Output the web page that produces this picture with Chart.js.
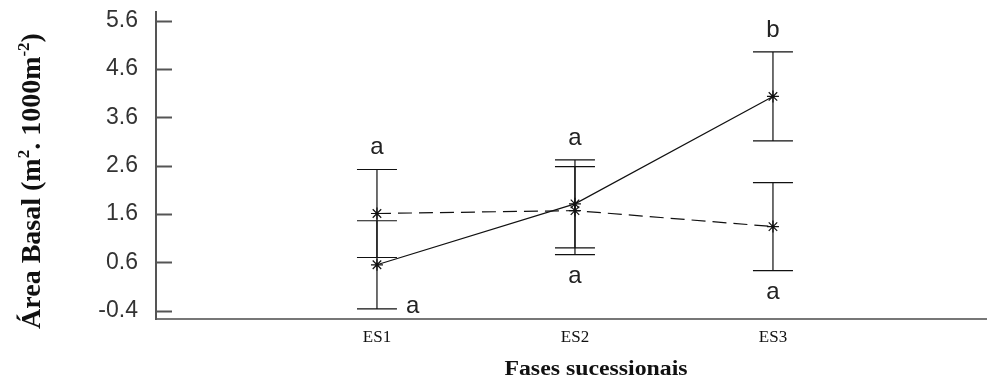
<!DOCTYPE html>
<html>
<head>
<meta charset="utf-8">
<script src="https://cdn.jsdelivr.net/npm/chart.js@4.4.0/dist/chart.umd.min.js"></script>
<style>
html, body { margin: 0; padding: 0; background: #fff; }
</style>
</head>
<body>
<canvas id="myChart" width="987" height="383"></canvas>
<script>
// categories (x = 1, 2, 3)
let phases       = ["ES1", "ES2", "ES3"];
// solid line series: mean and +/- error
let solidMean    = [0.55, 1.81, 4.03];
let solidErr     = [0.91, 0.91, 0.92];
// dashed line series
let dashedMean   = [1.61, 1.67, 1.34];
let dashedErr    = [0.91, 0.91, 0.91];
// significance letters above / below each phase
let letterTop    = ["a", "a", "b"];
let letterBottom = ["a", "a", "a"];
let yTicks       = [-0.4, 0.6, 1.6, 2.6, 3.6, 4.6, 5.6];

let yTitle = "Área Basal";
let xTitle = "Fases sucessionais";

let toPoints = (arr) => arr.map((v, i) => ({ x: i + 1, y: v }));

const extras = {
    id: "extras",
    beforeDatasetsDraw(chart) {
        const ctx = chart.ctx;
        const xs = chart.scales.x, ys = chart.scales.y;
        const series = [[solidMean, solidErr], [dashedMean, dashedErr]];
        ctx.save();
        ctx.strokeStyle = "#111";
        ctx.lineWidth = 1.2;
        series.forEach(([m, e]) => {
            m.forEach((v, i) => {
                const px = xs.getPixelForValue(i + 1);
                const top = ys.getPixelForValue(v + e[i]);
                const bot = ys.getPixelForValue(v - e[i]);
                ctx.beginPath();
                ctx.moveTo(px, top); ctx.lineTo(px, bot);
                ctx.moveTo(px - 20, top); ctx.lineTo(px + 20, top);
                ctx.moveTo(px - 20, bot); ctx.lineTo(px + 20, bot);
                ctx.stroke();
            });
        });
        ctx.restore();
    },
    afterDraw(chart) {
        const ctx = chart.ctx;
        const xs = chart.scales.x, ys = chart.scales.y;
        const area = chart.chartArea;
        ctx.save();

        // inward tick marks on the y axis
        ctx.strokeStyle = "#555";
        ctx.lineWidth = 2;
        yTicks.forEach(t => {
            const py = Math.round(ys.getPixelForValue(t)) + 0.5;
            ctx.beginPath();
            ctx.moveTo(area.left, py);
            ctx.lineTo(area.left + 16, py);
            ctx.stroke();
        });

        // letters
        ctx.fillStyle = "#222";
        ctx.font = "24px 'Liberation Sans', Arial, sans-serif";
        phases.forEach((p, i) => {
            const px = xs.getPixelForValue(i + 1);
            const hi = Math.max(solidMean[i] + solidErr[i], dashedMean[i] + dashedErr[i]);
            const lo = Math.min(solidMean[i] - solidErr[i], dashedMean[i] - dashedErr[i]);
            const hiY = ys.getPixelForValue(hi);
            const loY = ys.getPixelForValue(lo);
            ctx.textAlign = "center";
            ctx.textBaseline = "alphabetic";
            ctx.fillText(letterTop[i], px, hiY - 15);
            if (loY + 30 > area.bottom) {
                ctx.textAlign = "left";
                ctx.fillText(letterBottom[i], px + 29, loY + 4);
            } else {
                ctx.fillText(letterBottom[i], px, loY + 28);
            }
        });

        // x title
        ctx.save();
        ctx.translate(596, 370);
        ctx.scale(1.19, 1);
        ctx.fillStyle = "#111";
        ctx.font = "bold 20px 'Liberation Serif', 'Times New Roman', serif";
        ctx.textAlign = "center";
        ctx.textBaseline = "middle";
        ctx.fillText(xTitle, 0, 0);
        ctx.restore();

        // y title with superscripts
        const big = "bold 28px 'Liberation Serif', 'Times New Roman', serif";
        const sup = "bold 17px 'Liberation Serif', 'Times New Roman', serif";
        const parts = [
            [yTitle + " (m", big, 0],
            ["2", sup, -8],
            [". 1000m", big, 0],
            ["-2", sup, -8],
            [")", big, 0]
        ];
        let total = 0;
        parts.forEach(pt => { ctx.font = pt[1]; total += ctx.measureText(pt[0]).width; });
        ctx.save();
        ctx.translate(33, 181);
        ctx.rotate(-Math.PI / 2);
        ctx.fillStyle = "#111";
        ctx.textAlign = "left";
        ctx.textBaseline = "middle";
        let cx = -total / 2;
        parts.forEach(pt => {
            ctx.font = pt[1];
            ctx.fillText(pt[0], cx, pt[2]);
            cx += ctx.measureText(pt[0]).width;
        });
        ctx.restore();

        ctx.restore();
    }
};

const ctx = document.getElementById("myChart").getContext("2d");
const myChart = new Chart(ctx, {
    type: "line",
    data: {
        datasets: [{
            data: toPoints(solidMean),
            borderColor: "#111",
            borderWidth: 1.2,
            pointStyle: "star",
            pointRadius: 6,
            pointBorderColor: "#111",
            pointBorderWidth: 1.2,
            fill: false,
            tension: 0
        }, {
            data: toPoints(dashedMean),
            borderColor: "#111",
            borderWidth: 1.2,
            borderDash: [14, 7],
            pointStyle: "star",
            pointRadius: 6,
            pointBorderColor: "#111",
            pointBorderWidth: 1.2,
            fill: false,
            tension: 0
        }]
    },
    options: {
        responsive: false,
        animation: false,
        layout: { autoPadding: false, padding: { top: 12, left: 0, right: 0, bottom: 0 } },
        plugins: { legend: { display: false }, tooltip: { enabled: false } },
        scales: {
            x: {
                type: "linear",
                min: -0.116,
                max: 4.081,
                afterBuildTicks: s => { s.ticks = phases.map((p, i) => ({ value: i + 1 })); },
                afterFit: s => { s.height = 64; s.paddingLeft = 0; s.paddingRight = 0; },
                grid: { drawOnChartArea: false, drawTicks: false },
                border: { display: true, color: "#777", width: 2 },
                ticks: {
                    padding: 8,
                    color: "#111",
                    font: { family: "'Liberation Serif', 'Times New Roman', serif", size: 17 },
                    callback: v => phases[v - 1] || ""
                }
            },
            y: {
                min: -0.571,
                max: 5.776,
                afterBuildTicks: s => { s.ticks = yTicks.map(v => ({ value: v })); },
                afterFit: s => { s.width = 156; s.paddingTop = 0; s.paddingBottom = 0; },
                grid: { drawOnChartArea: false, drawTicks: false },
                border: { display: true, color: "#555", width: 2 },
                ticks: {
                    padding: 18,
                    color: "#333",
                    font: { family: "'Liberation Sans', Arial, sans-serif", size: 23 },
                    callback: v => v.toFixed(1)
                }
            }
        }
    },
    plugins: [extras]
});
</script>
</body>
</html>
